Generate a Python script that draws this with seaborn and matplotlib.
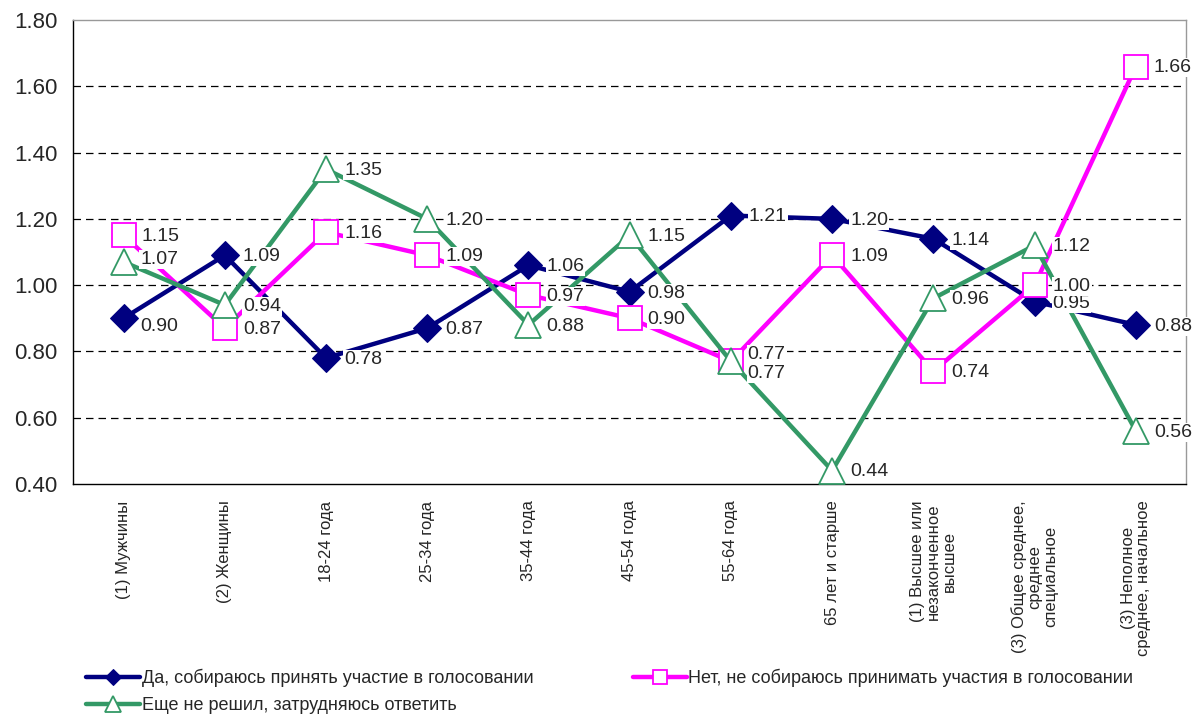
import matplotlib
matplotlib.use("Agg")
import matplotlib.pyplot as plt
import seaborn as sns
import pandas as pd

# =========================
# DATA
# =========================
categories = [
    "(1) Мужчины",
    "(2) Женщины",
    "18-24 года",
    "25-34 года",
    "35-44 года",
    "45-54 года",
    "55-64 года",
    "65 лет и старше",
    "(1) Высшее или\nнезаконченное\nвысшее",
    "(3) Общее среднее,\nсреднее\nспециальное",
    "(3) Неполное\nсреднее, начальное",
]
yes_vals = [0.90, 1.09, 0.78, 0.87, 1.06, 0.98, 1.21, 1.20, 1.14, 0.95, 0.88]
no_vals = [1.15, 0.87, 1.16, 1.09, 0.97, 0.90, 0.77, 1.09, 0.74, 1.00, 1.66]
undecided_vals = [1.07, 0.94, 1.35, 1.20, 0.88, 1.15, 0.77, 0.44, 0.96, 1.12, 0.56]

series_names = [
    "Да, собираюсь принять участие в голосовании",
    "Нет, не собираюсь принимать участия в голосовании",
    "Еще не решил, затрудняюсь ответить",
]

# =========================
# STYLE
# =========================
sns.set_style("white")
plt.rcParams["font.family"] = ["Liberation Sans", "DejaVu Sans"]

fig = plt.figure(figsize=(11.96, 7.2), dpi=100)
ax = fig.add_axes([0.061, 0.328, 0.931, 0.644])

x = list(range(len(categories)))

styles = [
    dict(color="#000080", marker="D", markersize=14, markerfacecolor="#000080",
         markeredgecolor="#000080"),
    dict(color="#FF00FF", marker="s", markersize=17, markerfacecolor="white",
         markeredgecolor="#FF00FF", markeredgewidth=1.3),
    dict(color="#339966", marker="^", markersize=19, markerfacecolor="white",
         markeredgecolor="#339966", markeredgewidth=1.3),
]
all_vals = [yes_vals, no_vals, undecided_vals]

for name, vals, st in zip(series_names, all_vals, styles):
    df = pd.DataFrame({"x": x, "y": vals})
    sns.lineplot(data=df, x="x", y="y", ax=ax, linewidth=3.2, label=name,
                 zorder=3, **st)

# label offsets (points), default right of marker
offsets = {
    (1, 6): (12, 5),
    (2, 6): (12, -9),
    (0, 0): (12, -6),
    (2, 0): (12, 2),
}
for si, vals in enumerate(all_vals):
    for i, v in enumerate(vals):
        dx, dy = offsets.get((si, i), (13, -1))
        ax.annotate(f"{v:.2f}", (i, v), xytext=(dx, dy), textcoords="offset points",
                    ha="left", va="center", fontsize=14, zorder=5,
                    bbox=dict(boxstyle="square,pad=0.05", fc="white", ec="none"))

# axes
ax.set_xlim(-0.5, len(categories) - 0.5)
ax.set_ylim(0.40, 1.80)
yt = [0.40, 0.60, 0.80, 1.00, 1.20, 1.40, 1.60, 1.80]
ax.set_yticks(yt)
ax.set_yticklabels([f"{t:.2f}" for t in yt], fontsize=16)
for t in yt[1:-1]:
    ax.axhline(t, color="black", linestyle=(0, (6, 4)), linewidth=0.9, zorder=1)

ax.set_xticks(x)
ax.set_xticklabels(categories, rotation=90, fontsize=12, ha="center", va="top",
                   multialignment="center", linespacing=1.05)
ax.set_xticks([i + 0.5 for i in range(-1, len(categories))], minor=True)
ax.tick_params(axis="x", which="major", length=0, pad=12)
ax.tick_params(axis="x", which="minor", length=5, width=1, direction="out", color="black")
ax.tick_params(axis="y", length=5, width=1, direction="out", color="black", pad=6)
ax.set_xlabel("")
ax.set_ylabel("")

ax.spines["top"].set_color("#999999")
ax.spines["left"].set_color("black")
ax.spines["bottom"].set_color("black")
ax.spines["right"].set_color("#999999")
for s in ax.spines.values():
    s.set_linewidth(1)

handles, labels = ax.get_legend_handles_labels()
ax.get_legend().remove()
order = [0, 2, 1]
fig.legend([handles[i] for i in order], [labels[i] for i in order],
           loc="lower left", bbox_to_anchor=(0.058, -0.014), ncol=2,
           frameon=False, fontsize=13, handlelength=3, columnspacing=5.5,
           handletextpad=0.1, labelspacing=0.55, markerscale=0.6)

fig.savefig("out.png", dpi=100)
